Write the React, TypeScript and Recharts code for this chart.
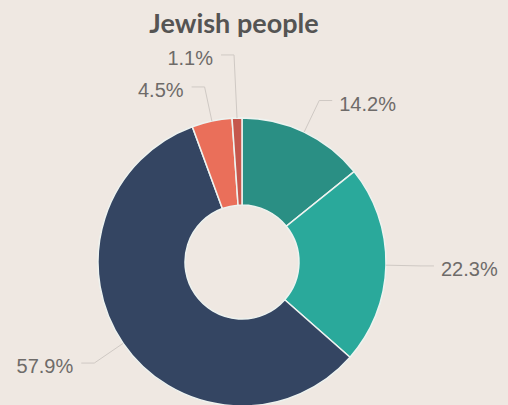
import { PieChart, Pie, Cell } from "recharts";

const categories = ["A", "B", "C", "D", "E"];
const shares = [14.2, 22.3, 57.9, 4.5, 1.1];
const sliceColors = ["#2a8f84", "#2aa99b", "#344562", "#ea6f5a", "#c5574d"];

const data = categories.map((name, i) => ({ name, value: shares[i] }));

const RAD = Math.PI / 180;
const EXT = 35;
const HORIZ = 13;
const MIN_GAP = 32;

// elbow points from slice angles, small neighbours pushed apart
function layoutElbows(cx: number, cy: number, r: number) {
  const total = shares.reduce((a, b) => a + b, 0);
  let start = 90;
  const pts = shares.map((v) => {
    const sweep = (v / total) * 360;
    const mid = start - sweep / 2;
    start -= sweep;
    const cos = Math.cos(-mid * RAD);
    const sin = Math.sin(-mid * RAD);
    return {
      ox: cx + r * cos,
      oy: cy + r * sin,
      ex: cx + (r + EXT) * cos,
      ey: cy + (r + EXT) * sin,
      right: cos >= 0,
    };
  });
  for (let i = 1; i < pts.length; i++) {
    const prev = pts[i - 1];
    const p = pts[i];
    if (prev.right === p.right && Math.abs(prev.ey - p.ey) < MIN_GAP) {
      p.ey = prev.ey - MIN_GAP;
      p.ex = p.ox - 3;
    }
  }
  return pts;
}

const CX = 242;
const CY = 262;
const OUTER = 144;
const elbows = layoutElbows(CX, CY, OUTER);

const renderLabelLine = (props: any) => {
  const p = elbows[props.index];
  const endX = p.right ? p.ex + HORIZ : p.ex - HORIZ;
  return (
    <polyline
      points={`${p.ox},${p.oy} ${p.ex},${p.ey} ${endX},${p.ey}`}
      fill="none"
      stroke="#cfc9c4"
      strokeWidth={1}
    />
  );
};

const renderLabel = (props: any) => {
  const p = elbows[props.index];
  const x = p.right ? p.ex + HORIZ + 7 : p.ex - HORIZ - 8;
  return (
    <text
      x={x}
      y={p.ey + 5}
      textAnchor={p.right ? "start" : "end"}
      dominantBaseline="middle"
      fill="#6e6b69"
      fontSize={20}
      fontFamily="'Liberation Sans', Arial, sans-serif"
    >
      {`${shares[props.index].toFixed(1)}%`}
    </text>
  );
};

export default function App() {
  return (
    <div
      style={{
        position: "relative",
        width: 508,
        height: 405,
        background: "#efe8e2",
        overflow: "hidden",
      }}
    >
      <style>{`body{margin:0}`}</style>
      <div
        style={{
          position: "absolute",
          top: 8,
          left: 0,
          width: 468,
          textAlign: "center",
          fontFamily: "Lato, 'Open Sans', sans-serif",
          fontWeight: 700,
          fontSize: 27,
          color: "#555453",
          lineHeight: "30px",
        }}
      >
        Jewish people
      </div>
      <PieChart width={508} height={405} margin={{ top: 0, right: 0, bottom: 0, left: 0 }}>
        <Pie
          data={data}
          dataKey="value"
          nameKey="name"
          cx={CX}
          cy={CY}
          innerRadius={57}
          outerRadius={OUTER}
          startAngle={90}
          endAngle={-270}
          stroke="#eef3f0"
          strokeWidth={1.5}
          label={renderLabel}
          labelLine={renderLabelLine}
          isAnimationActive={false}
        >
          {data.map((d, i) => (
            <Cell key={d.name} fill={sliceColors[i]} />
          ))}
        </Pie>
      </PieChart>
    </div>
  );
}
